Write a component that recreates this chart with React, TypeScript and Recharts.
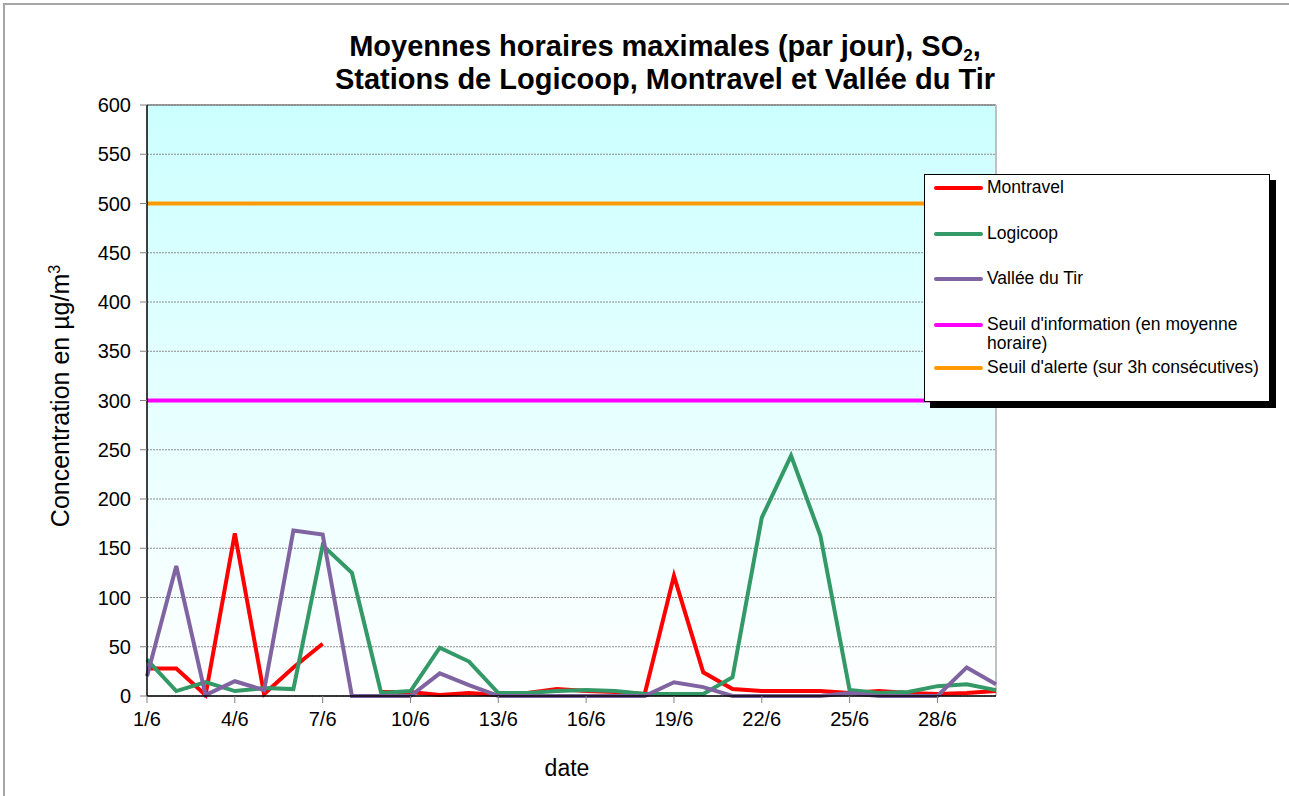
import React from "react";
import {
  LineChart,
  Line,
  XAxis,
  YAxis,
  CartesianGrid,
  ReferenceLine,
} from "recharts";

const days = [
  "1/6", "2/6", "3/6", "4/6", "5/6", "6/6", "7/6", "8/6", "9/6", "10/6",
  "11/6", "12/6", "13/6", "14/6", "15/6", "16/6", "17/6", "18/6", "19/6", "20/6",
  "21/6", "22/6", "23/6", "24/6", "25/6", "26/6", "27/6", "28/6", "29/6", "30/6",
];

const montravel = [28, 28, 1, 165, 2, 29, 53, null, 4, 4, 1, 3, 1, 3, 7, 5, 4, 2, 122, 24, 7, 5, 5, 5, 3, 5, 3, 2, 3, 5];
const logicoop = [37, 5, 14, 5, 8, 7, 153, 125, 3, 5, 49, 35, 3, 3, 5, 6, 5, 2, 2, 2, 19, 181, 244, 163, 6, 3, 4, 10, 12, 6];
const vallee = [20, 132, 1, 15, 6, 168, 164, 0, 0, 0, 23, 11, 0, 0, 0, 0, 0, 0, 14, 9, 0, 0, 0, 0, 3, 0, 0, 0, 29, 12];

const seuilInfo = 300;
const seuilAlerte = 500;

const yTicks = [0, 50, 100, 150, 200, 250, 300, 350, 400, 450, 500, 550, 600];
const xTicks = ["1/6", "4/6", "7/6", "10/6", "13/6", "16/6", "19/6", "22/6", "25/6", "28/6"];

const series = [
  { key: "montravel", name: "Montravel", color: "#ff0000", legend: ["Montravel"] },
  { key: "logicoop", name: "Logicoop", color: "#339966", legend: ["Logicoop"] },
  { key: "vallee", name: "Vallée du Tir", color: "#8064a2", legend: ["Vallée du Tir"] },
  { key: "info", name: "Seuil d'information (en moyenne horaire)", color: "#ff00ff", legend: ["Seuil d'information (en moyenne", "horaire)"] },
  { key: "alerte", name: "Seuil d'alerte (sur 3h consécutives)", color: "#ff9900", legend: ["Seuil d'alerte (sur 3h consécutives)"] },
];

const data = days.map((d, i) => ({
  day: d,
  montravel: montravel[i],
  logicoop: logicoop[i],
  vallee: vallee[i],
  info: seuilInfo,
  alerte: seuilAlerte,
}));

const font = "'Liberation Sans', Arial, sans-serif";
const legendRows = [187, 233, 278, 324, 367];

export default function App() {
  return (
    <div style={{ position: "absolute", left: 0, top: 0, width: 1289, height: 796, background: "#fff", fontFamily: font, overflow: "hidden" }}>
      <div style={{ position: "absolute", left: 3, top: 3, width: 1400, height: 900, borderTop: "2px solid #a6a6a6", borderLeft: "2px solid #a6a6a6" }} />

      <div style={{ position: "absolute", left: 215, top: 30, width: 900, textAlign: "center", fontWeight: "bold", fontSize: 29, lineHeight: "33px", color: "#000", whiteSpace: "nowrap" }}>
        <div style={{ height: 33 }}>
          Moyennes horaires maximales (par jour), SO
          <span style={{ fontSize: 17, lineHeight: 0, position: "relative", top: 5 }}>2</span>,
        </div>
        <div style={{ height: 33 }}>Stations de Logicoop, Montravel et Vallée du Tir</div>
      </div>

      <LineChart
        width={1289}
        height={796}
        data={data}
        margin={{ top: 105, right: 293, bottom: 70, left: 87 }}
        style={{ position: "absolute", left: 0, top: 0 }}
      >
        <defs>
          <linearGradient id="bg" x1="0" y1="0" x2="0" y2="1">
            <stop offset="0%" stopColor="#ccffff" />
            <stop offset="100%" stopColor="#ffffff" />
          </linearGradient>
        </defs>
        <CartesianGrid vertical={false} fill="url(#bg)" fillOpacity={1} stroke="#8c8c8c" strokeDasharray="2 1" />
        <XAxis
          dataKey="day"
          ticks={xTicks}
          interval={0}
          height={30}
          tickSize={7}
          tickMargin={9}
          axisLine={{ stroke: "#000", strokeWidth: 1.5 }}
          tickLine={{ stroke: "#808080" }}
          tick={{ fill: "#000", fontSize: 20, fontFamily: font }}
        />
        <YAxis
          domain={[0, 600]}
          ticks={yTicks}
          interval={0}
          width={60}
          tickSize={7}
          tickMargin={9}
          axisLine={{ stroke: "#000", strokeWidth: 1.5 }}
          tickLine={{ stroke: "#808080" }}
          tick={{ fill: "#000", fontSize: 20, fontFamily: font }}
        />
        <ReferenceLine y={600} stroke="#808080" strokeWidth={1.5} />
        <ReferenceLine x="30/6" stroke="#c0c0c0" strokeWidth={2} />
        {series.map((s) => (
          <Line
            key={s.key}
            type="linear"
            dataKey={s.key}
            name={s.name}
            stroke={s.color}
            strokeWidth={4}
            dot={false}
            activeDot={false}
            isAnimationActive={false}
          />
        ))}
      </LineChart>

      <div
        style={{
          position: "absolute",
          left: 34,
          top: 396,
          width: 52,
          height: 0,
          transform: "rotate(-90deg)",
          transformOrigin: "center",
          display: "flex",
          justifyContent: "center",
          alignItems: "center",
        }}
      >
        <span style={{ whiteSpace: "nowrap", fontSize: 25, color: "#000" }}>
          Concentration en µg/m<sup style={{ fontSize: 16, lineHeight: 0 }}>3</sup>
        </span>
      </div>

      <div style={{ position: "absolute", left: 467, top: 755, width: 200, textAlign: "center", fontSize: 23, lineHeight: "26px", color: "#000" }}>date</div>

      <div
        style={{
          position: "absolute",
          left: 924,
          top: 174,
          width: 344,
          height: 226,
          background: "#fff",
          border: "1px solid #000",
          boxShadow: "6px 6px 0 #000",
        }}
      >
        {series.map((s, i) => (
          <div key={s.key} style={{ position: "absolute", left: 0, top: legendRows[i] - 174 - 10 }}>
            <div style={{ position: "absolute", left: 9, top: 8, width: 49, height: 4, background: s.color, borderRadius: 2 }} />
            <div style={{ position: "absolute", left: 62, top: 0, whiteSpace: "nowrap", fontSize: 17.5, lineHeight: "19px", color: "#000" }}>
              {s.legend.map((t) => (
                <div key={t}>{t}</div>
              ))}
            </div>
          </div>
        ))}
      </div>
    </div>
  );
}
